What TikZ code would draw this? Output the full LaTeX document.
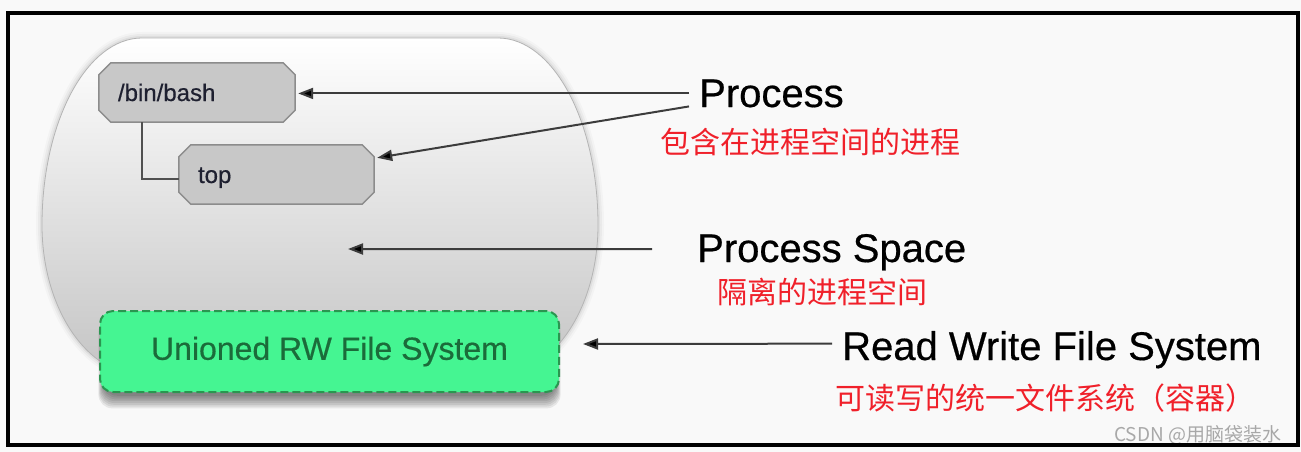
\documentclass[tikz,border=0pt]{standalone}
\usepackage{fontspec}
\setmainfont{Liberation Sans}
\newfontfamily\labfont[FakeBold=0.5]{Liberation Sans}
\newfontfamily\cjk{Noto Sans CJK SC}
\usetikzlibrary{calc,arrows.meta}
\pgfdeclarelayer{bg}
\pgfdeclarelayer{mid}
\pgfsetlayers{bg,mid,main}
\definecolor{canvas}{HTML}{F9F9F9}
\definecolor{boxfill}{HTML}{C8C8C8}
\definecolor{boxedge}{HTML}{8C8C8C}
\definecolor{boxtext}{HTML}{1E2030}
\definecolor{arrowgray}{HTML}{3C3C3C}
\definecolor{treegray}{HTML}{505050}
\definecolor{mint}{HTML}{45F592}
\definecolor{mintedge}{HTML}{2A9650}
\definecolor{minttext}{HTML}{1B6B3A}
\definecolor{cnred}{HTML}{F0202A}
\definecolor{wm}{HTML}{A8A8A8}
\definecolor{spaceedge}{HTML}{B4B4B4}
\newcommand\psPath{(142,38) -- (498,38) .. controls (553.2,38) and (598,121.7) .. (598,225) .. controls (598,307.8) and (553.2,375) .. (498,375) -- (142,375) .. controls (86.8,375) and (42,307.8) .. (42,225) .. controls (42,121.7) and (86.8,38) .. (142,38) -- cycle}
\newcommand\chamferbox[1]{%
  \draw[boxline] ($(#1.north west)+(12,0)$) -- ($(#1.north east)+(-12,0)$) -- ($(#1.north east)+(0,12)$) -- ($(#1.south east)+(0,-12)$) -- ($(#1.south east)+(-12,0)$) -- ($(#1.south west)+(12,0)$) -- ($(#1.south west)+(0,-12)$) -- ($(#1.north west)+(0,12)$) -- cycle;}
\begin{document}
\begin{tikzpicture}[x=1pt,y=-1pt,
  procbox/.style={rectangle, minimum height=59pt, inner xsep=19pt, inner ysep=0pt, align=left, text height=17pt, text depth=0pt, font=\labfont\fontsize{24}{28}\selectfont, text=boxtext},
  boxline/.style={fill=boxfill, draw=boxedge, line width=1.5pt, line join=miter},
  arr/.style={draw=arrowgray, line width=2pt, -{Triangle[length=15pt,width=11pt,fill=black]}},
  tree/.style={draw=treegray, line width=2pt},
  lab/.style={font=\labfont\fontsize{40}{45}\selectfont, inner sep=0pt, anchor=base west, text=black},
  cn/.style={font=\cjk\fontsize{30}{34}\selectfont, text=cnred, inner sep=0pt, anchor=west},
  rwbox/.style={rectangle, rounded corners=13pt, fill=mint, draw=mintedge, line width=2pt, dash pattern=on 8pt off 4pt, minimum width=459pt, minimum height=81pt, font=\labfont\fontsize{32}{37}\selectfont, text=minttext}
]
\useasboundingbox (0,0) rectangle (1301,452);

% nodes
\node[procbox, minimum width=196pt, text width=158pt] (bash) at (197,92.5) {/bin/bash};
\node[procbox, minimum width=195pt, text width=157pt] (top) at (276.5,174.5) {top};
\node[rwbox] (rw) at (329.5,351.5) {Unioned RW File System};

\node[lab] (proc) at (699,107) {Process};
\node[cn] (cn1) at (660,142.5) {包含在进程空间的进程};
\node[lab] (pspace) at (697,262) {Process Space};
\node[cn] (cn2) at (717,291.5) {隔离的进程空间};
\node[lab] (rwlab) at (842,360) {Read Write File System};
\node[cn] (cn3) at (835,398) {可读写的统一文件系统（容器）};
\node[font=\cjk\fontsize{19}{22}\selectfont, text=wm, anchor=base west, inner sep=0pt] (wmk) at (1114,441) {CSDN @用脑袋装水};

\coordinate (pspt) at (348,249);

\begin{pgfonlayer}{bg}
  \fill[canvas] (0,0) rectangle (1301,452);
  \foreach \w/\o in {12/0.025,8/0.035,4/0.05}
    \draw[line width=\w pt, black, opacity=\o] \psPath;
  \shade[top color=white, bottom color=black!23] \psPath;
  \draw[spaceedge, line width=0.8pt] \psPath;
\end{pgfonlayer}

\begin{pgfonlayer}{mid}
  \chamferbox{bash}
  \chamferbox{top}
  \foreach \k in {1,...,8}
    \fill[black, opacity=0.075, rounded corners=14pt] ($(rw.north west)+(5-\k*0.7,8)$) rectangle ($(rw.south east)+(-5+\k*0.7,1+\k*1.8)$);
\end{pgfonlayer}

% connectors
\draw[tree] ($(bash.south west)+(43,0)$) |- ($(top.west)+(0,4.5)$);
\draw[arr, shorten >=3pt] ($(proc.west)+(-10,0)$) -- (bash.east |- {$(proc.west)$});
\draw[arr] ($(proc.west)+(-10,13)$) -- ($(top.north east)+(3,13)$);
\draw[arr] ($(pspace.west)+(-45,-3)$) -- (pspt);
\draw[arr] ($(rwlab.west)+(-10,-6)$) -- ($(rw.east)+(23,-7.5)$);

% frame
\draw[black, line width=4pt] (8,13) rectangle (1298,445);
\end{tikzpicture}
\end{document}
